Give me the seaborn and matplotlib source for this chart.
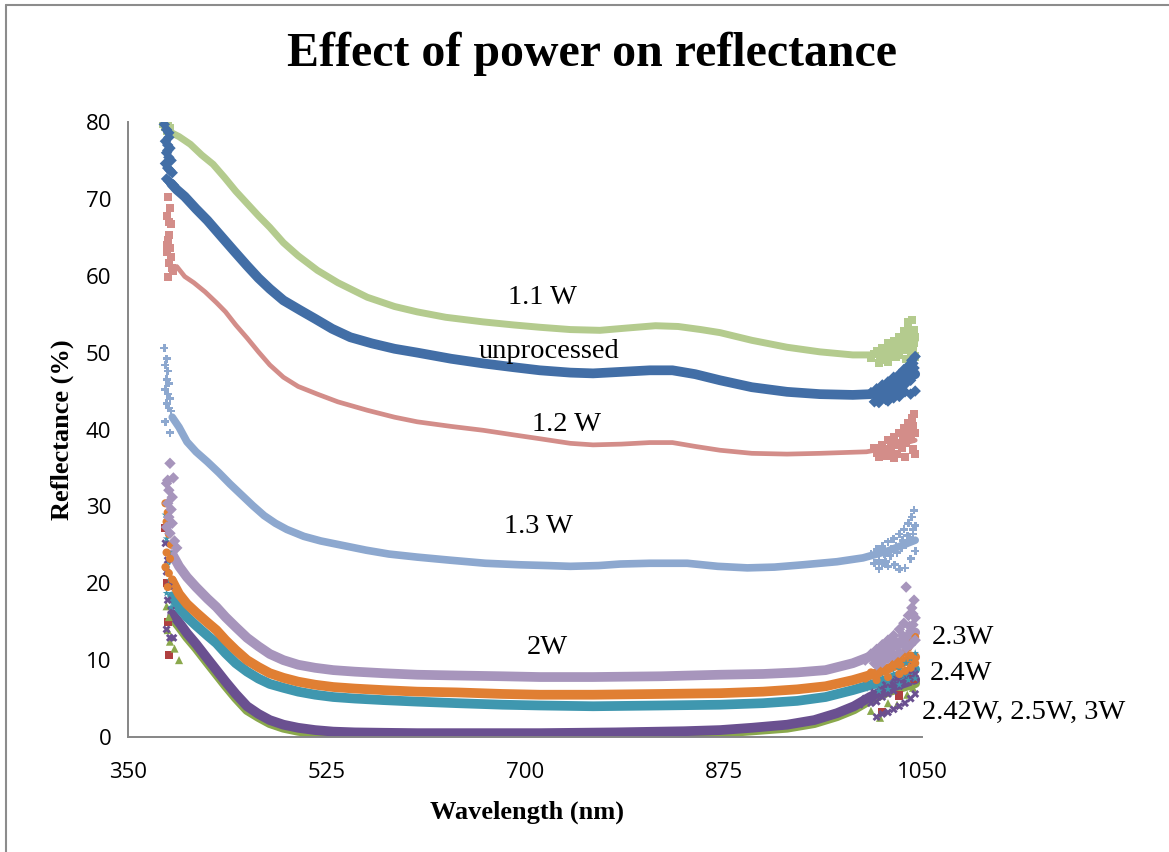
import numpy as np
import pandas as pd
import matplotlib
matplotlib.use("Agg")
import matplotlib.pyplot as plt
from matplotlib.lines import Line2D
from matplotlib.ticker import MultipleLocator, FixedLocator
import seaborn as sns

# ---------------- data ----------------
wl_11 = [381, 387, 395, 405, 415, 425, 435, 445, 455, 465, 475, 487, 500, 517, 535, 561, 585, 605, 630, 663, 690, 713, 740, 766, 790, 815, 835, 855, 872, 900, 931, 960, 989, 1007, 1025, 1044]
r_11 = [79.6, 78.7, 78.1, 77.1, 75.7, 74.5, 72.8, 71.0, 69.4, 67.8, 66.3, 64.3, 62.6, 60.7, 59.1, 57.2, 56.0, 55.3, 54.6, 54.0, 53.6, 53.3, 53.0, 52.9, 53.2, 53.5, 53.4, 53.0, 52.6, 51.6, 50.7, 50.1, 49.7, 49.7, 50.6, 51.6]

wl_un = [388, 393, 400, 410, 420, 430, 443, 455, 465, 475, 487, 502, 515, 530, 546, 565, 585, 605, 635, 663, 690, 713, 740, 760, 785, 810, 830, 850, 872, 900, 931, 960, 989, 1005, 1025, 1044]
r_un = [72.0, 71.2, 70.3, 68.7, 67.2, 65.5, 63.3, 61.3, 59.7, 58.3, 56.8, 55.5, 54.4, 53.1, 52.0, 51.2, 50.5, 50.0, 49.2, 48.6, 48.1, 47.7, 47.4, 47.3, 47.5, 47.7, 47.7, 47.2, 46.4, 45.5, 44.9, 44.6, 44.5, 44.6, 45.8, 47.2]

wl_12 = [393, 400, 408, 418, 428, 436, 445, 455, 465, 475, 487, 500, 517, 535, 561, 585, 605, 635, 663, 690, 713, 740, 760, 785, 810, 830, 850, 872, 900, 931, 960, 1001, 1020, 1044]
r_12 = [61.2, 59.9, 59.1, 57.9, 56.5, 55.3, 53.6, 51.9, 50.1, 48.4, 46.8, 45.6, 44.6, 43.6, 42.5, 41.6, 41.0, 40.4, 39.9, 39.3, 38.8, 38.2, 38.0, 38.1, 38.3, 38.3, 37.8, 37.3, 36.9, 36.8, 36.9, 37.1, 37.6, 38.6]

wl_13 = [389, 395, 402, 410, 420, 430, 440, 450, 460, 470, 480, 490, 505, 520, 540, 560, 580, 605, 634, 665, 696, 720, 740, 765, 784, 810, 843, 870, 896, 920, 945, 975, 998, 1020, 1044]
r_13 = [41.6, 40.3, 38.4, 37.1, 35.8, 34.4, 32.9, 31.5, 30.1, 28.8, 27.8, 27.0, 26.1, 25.5, 24.9, 24.3, 23.8, 23.4, 23.0, 22.6, 22.4, 22.3, 22.2, 22.3, 22.5, 22.6, 22.6, 22.2, 22.0, 22.1, 22.4, 22.8, 23.3, 24.2, 25.6]

wl_low = [389, 395, 402, 410, 420, 428, 436, 445, 455, 465, 475, 487, 500, 515, 531, 550, 575, 605, 640, 680, 713, 760, 820, 872, 910, 940, 965, 989, 1010, 1030, 1044]
r_20 = [23.8, 22.2, 20.8, 19.5, 18.0, 16.9, 15.6, 14.3, 12.9, 11.8, 10.8, 10.0, 9.4, 9.0, 8.7, 8.5, 8.3, 8.1, 8.0, 7.9, 7.8, 7.8, 7.9, 8.1, 8.2, 8.4, 8.7, 9.6, 10.8, 12.3, 13.6]
r_23 = [20.3, 18.6, 17.3, 16.2, 14.9, 13.9, 12.6, 11.3, 10.0, 9.1, 8.3, 7.7, 7.2, 6.8, 6.5, 6.3, 6.1, 5.9, 5.8, 5.6, 5.5, 5.5, 5.6, 5.7, 5.9, 6.2, 6.6, 7.4, 8.3, 9.5, 10.4]
r_24 = [18.3, 16.8, 15.6, 14.5, 13.2, 12.2, 10.9, 9.6, 8.5, 7.6, 6.9, 6.4, 5.9, 5.5, 5.2, 5.0, 4.8, 4.6, 4.4, 4.2, 4.1, 4.0, 4.1, 4.2, 4.4, 4.7, 5.2, 6.1, 7.0, 8.0, 8.8]

wl_bot = [389, 395, 402, 410, 420, 428, 436, 445, 455, 465, 475, 487, 500, 515, 531, 550, 575, 605, 660, 713, 780, 840, 872, 900, 931, 955, 975, 990, 1004, 1020, 1044]
r_242 = [16.0, 14.9, 13.5, 12.1, 10.2, 8.7, 7.2, 5.6, 4.0, 3.0, 2.2, 1.6, 1.2, 0.9, 0.7, 0.6, 0.55, 0.5, 0.5, 0.5, 0.6, 0.75, 0.9, 1.2, 1.6, 2.2, 3.1, 4.0, 5.2, 6.3, 7.5]
r_25 = [15.5, 14.4, 13.0, 11.6, 9.7, 8.2, 6.7, 5.1, 3.5, 2.6, 1.8, 1.2, 0.8, 0.5, 0.35, 0.3, 0.25, 0.2, 0.2, 0.2, 0.3, 0.45, 0.55, 0.85, 1.2, 1.8, 2.7, 3.6, 4.8, 5.9, 7.0]
r_3 = [15.7, 14.6, 13.2, 11.8, 9.9, 8.4, 6.9, 5.3, 3.7, 2.8, 2.0, 1.4, 1.0, 0.7, 0.5, 0.4, 0.38, 0.35, 0.35, 0.35, 0.45, 0.6, 0.7, 1.0, 1.4, 2.0, 2.9, 3.8, 5.0, 6.1, 7.2]

# noisy ends (individual scattered readings)
n11_wl = [381, 383, 385, 387, 384, 1005, 1010, 1012, 1015, 1018, 1020, 1022, 1025, 1027, 1030, 1032, 1034, 1036, 1038, 1040, 1041, 1042, 1043, 1044, 1044, 1040, 1036, 1030, 1025, 1020, 1015, 1010, 1038, 1042,
          1008, 1013, 1017, 1023, 1028, 1033, 1037, 1039, 1043, 1041, 1035, 1029, 1021]
n11_r = [79.8, 79.4, 79.9, 79.2, 78.9, 49.3, 50.2, 48.7, 50.6, 49.0, 51.2, 50.0, 51.5, 49.4, 52.0, 50.3, 52.8, 51.0, 53.4, 51.8, 54.2, 50.6, 53.0, 52.0, 49.5, 49.6, 49.2, 49.7, 50.5, 48.8, 49.4, 49.9, 54.0, 52.8,
         49.8, 49.6, 50.0, 50.8, 51.0, 51.6, 52.2, 52.6, 51.2, 50.2, 50.4, 50.0, 49.6]

nun_wl = [382, 384, 386, 383, 385, 387, 384, 386, 388, 383, 385, 387, 389, 384, 386, 388, 390, 386, 385,
          1005, 1008, 1010, 1012, 1015, 1018, 1020, 1022, 1025, 1028, 1030, 1032, 1034, 1036, 1038, 1040, 1041, 1042, 1043, 1044, 1044, 1040, 1035, 1030, 1025, 1020, 1015, 1012,
          1017, 1023, 1027, 1033, 1037, 1039, 1042, 1031, 1026, 1021]
nun_r = [79.7, 79.0, 78.6, 77.5, 77.0, 76.6, 76.0, 75.4, 75.0, 74.6, 74.0, 73.7, 73.4, 72.6, 72.3, 72.0, 71.8, 78.0, 76.3,
         44.8, 43.6, 45.3, 44.0, 45.8, 43.9, 46.2, 44.6, 46.8, 45.0, 47.2, 45.5, 47.8, 46.0, 48.3, 46.4, 49.0, 47.0, 48.0, 49.5, 45.0, 44.6, 44.9, 44.3, 44.1, 43.7, 44.3, 43.5,
         45.0, 45.4, 46.0, 46.6, 47.0, 47.4, 48.6, 45.8, 45.4, 45.0]

n12_wl = [385, 387, 384, 386, 388, 386, 385, 384, 387, 384, 388, 386, 385, 389, 390,
          1008, 1012, 1015, 1018, 1020, 1022, 1025, 1028, 1030, 1032, 1034, 1036, 1038, 1040, 1041, 1042, 1043, 1044, 1044, 1035, 1025, 1015, 1038, 1030,
          1010, 1017, 1023, 1027, 1033, 1037, 1042]
n12_r = [70.2, 68.8, 67.8, 67.0, 66.7, 65.3, 64.6, 64.0, 63.6, 63.1, 62.4, 61.6, 59.8, 61.0, 60.6,
         37.6, 36.4, 38.0, 36.6, 38.6, 37.2, 39.0, 36.8, 39.6, 37.6, 40.2, 38.2, 40.8, 38.8, 41.5, 37.4, 42.0, 39.5, 36.8, 36.4, 36.3, 37.0, 39.8, 38.2,
         37.0, 37.4, 37.8, 38.0, 38.6, 39.2, 40.4]

n13_wl = [382, 384, 383, 385, 384, 386, 383, 385, 387, 384, 386, 388, 383, 387,
          1005, 1008, 1010, 1012, 1015, 1018, 1020, 1022, 1025, 1028, 1030, 1032, 1034, 1036, 1038, 1040, 1041, 1042, 1043, 1044, 1044, 1040, 1035, 1030, 1026, 1020, 1015, 1012,
          1017, 1023, 1027, 1033, 1037, 1042]
n13_r = [50.6, 49.2, 48.4, 47.6, 46.5, 46.0, 45.2, 44.6, 44.0, 43.4, 42.8, 42.4, 41.0, 39.6,
         23.8, 22.6, 24.4, 23.0, 24.8, 22.8, 25.4, 23.6, 25.8, 24.0, 26.4, 24.6, 27.0, 25.0, 27.8, 25.6, 28.6, 26.4, 29.5, 27.5, 24.2, 23.2, 22.0, 21.8, 22.4, 22.2, 22.6, 21.9,
         23.8, 24.4, 24.8, 25.6, 26.2, 27.0]

n20_wl = [387, 385, 390, 384, 386, 389, 385, 388, 386, 389, 384, 387, 391, 393,
          1000, 1005, 1008, 1010, 1012, 1015, 1018, 1020, 1022, 1025, 1028, 1030, 1032, 1034, 1036, 1038, 1040, 1041, 1042, 1043, 1044, 1044, 1040, 1036, 1030, 1025, 1020, 1015, 1010, 1036,
          1017, 1023, 1027, 1033, 1039, 1042]
n20_r = [35.6, 33.4, 33.7, 33.0, 32.1, 31.2, 30.4, 29.6, 28.6, 27.8, 27.3, 26.5, 25.5, 24.6,
         10.0, 10.8, 9.6, 11.4, 10.2, 12.0, 10.6, 12.6, 11.2, 13.2, 11.8, 14.0, 12.4, 14.8, 13.0, 15.8, 13.8, 16.8, 14.6, 17.8, 15.5, 12.6, 12.0, 11.6, 11.0, 10.6, 10.2, 9.7, 9.4, 19.5,
         11.2, 11.8, 12.4, 13.2, 14.4, 16.0]

n23_wl = [383, 385, 384, 386, 388, 384, 387, 383, 386, 389, 385,
          1000, 1005, 1010, 1015, 1020, 1025, 1028, 1030, 1032, 1035, 1038, 1040, 1042, 1044, 1044, 1040, 1035, 1030, 1020, 1010]
n23_r = [30.4, 29.2, 28.0, 26.4, 25.0, 24.0, 23.2, 22.1, 21.3, 20.5, 19.5,
         7.6, 8.4, 8.0, 9.0, 8.8, 9.6, 10.2, 9.4, 10.8, 11.0, 11.6, 10.6, 12.4, 13.0, 9.6, 9.0, 8.6, 8.2, 7.8, 7.4]

n24_wl = [383, 385, 384, 386, 385, 387, 384, 388,
          1000, 1005, 1010, 1015, 1020, 1025, 1030, 1033, 1036, 1040, 1042, 1044, 1044, 1038, 1030, 1020, 1012]
n24_r = [28.9, 27.0, 25.8, 24.0, 22.4, 20.4, 18.7, 16.9,
         6.3, 7.0, 6.6, 7.6, 7.2, 8.2, 8.8, 8.0, 9.6, 10.2, 9.0, 10.9, 7.6, 7.4, 6.8, 6.2, 6.0]

n242_wl = [383, 385, 384, 386, 385, 388, 384, 387, 390,
           995, 1000, 1005, 1008, 1010, 1013, 1015, 1018, 1020, 1023, 1025, 1028, 1030, 1033, 1035, 1038, 1040, 1042, 1044, 1044, 1040, 1035, 1030, 1025, 1020, 1015, 1010]
n242_r = [25.2, 23.0, 21.5, 19.6, 17.8, 16.5, 14.0, 12.9, 12.9,
          4.2, 5.0, 4.4, 5.8, 4.6, 6.2, 5.2, 6.8, 5.6, 7.2, 6.0, 7.6, 6.6, 8.0, 7.0, 8.6, 7.6, 9.1, 8.2, 5.6, 5.0, 4.4, 4.0, 3.6, 3.2, 3.0, 2.6]

n25_wl = [384, 386, 385, 388, 387, 391, 395, 1005, 1013, 1020, 1028, 1037, 1042]
n25_r = [17.0, 15.6, 13.9, 13.0, 12.4, 11.5, 10.0, 3.4, 2.5, 4.4, 4.2, 5.5, 6.4]

n3_wl = [383, 384, 385, 386, 1015, 1030, 1042]
n3_r = [27.2, 20.0, 15.0, 10.7, 3.2, 5.4, 7.6]

series = [
    # name, wl, r, noise wl, noise r, color, linewidth(pt), marker
    ("1.1 W", wl_11, r_11, n11_wl, n11_r, "#B4CB8E", 5.0, "s"),
    ("unprocessed", wl_un, r_un, nun_wl, nun_r, "#426EA6", 7.0, "D"),
    ("1.2 W", wl_12, r_12, n12_wl, n12_r, "#D38D89", 3.4, "s"),
    ("1.3 W", wl_13, r_13, n13_wl, n13_r, "#8DA8CF", 5.5, "P"),
    ("3W", wl_bot, r_3, n3_wl, n3_r, "#B04040", 6.8, "s"),
    ("2.5W", wl_bot, r_25, n25_wl, n25_r, "#8AA84C", 7.0, "^"),
    ("2.42W", wl_bot, r_242, n242_wl, n242_r, "#6A5090", 7.0, "X"),
    ("2.4W", wl_low, r_24, n24_wl, n24_r, "#3F97AF", 7.0, "*"),
    ("2.3W", wl_low, r_23, n23_wl, n23_r, "#E07F33", 7.0, "o"),
    ("2W", wl_low, r_20, n20_wl, n20_r, "#A795BC", 7.0, "D"),
]

labels_txt = ["1.1 W", "unprocessed", "1.2 W", "1.3 W", "2W"]
labels_x = [715, 721, 737, 712, 720]
labels_y = [57.2, 50.2, 40.7, 27.4, 11.6]

right_txt = ["2.3W", "2.4W", "2.42W, 2.5W, 3W"]
right_x = [1058.5, 1057, 1050]
right_y = [13.0, 8.3, 3.25]

# ---------------- plotting ----------------
sns.set_theme(style="white")
plt.rcParams["font.family"] = ["Open Sans", "DejaVu Sans"]
plt.rcParams["text.color"] = "black"

fig = plt.figure(figsize=(11.69, 8.52), dpi=100)
ax = fig.add_axes([128 / 1169, 1 - 737 / 852, 794 / 1169, 615 / 852])

for name, wl, r, nwl, nr, col, lw, mk in series:
    sns.lineplot(x=wl, y=r, ax=ax, color=col, linewidth=lw, sort=False,
                 estimator=None, solid_capstyle="round", solid_joinstyle="round")
    sns.scatterplot(x=nwl, y=nr, ax=ax, color=col, marker=mk, s=34,
                    linewidth=0, edgecolor="none", zorder=3)

ax.set_xlim(350, 1050)
ax.set_ylim(0, 80)
ax.xaxis.set_major_locator(FixedLocator([350, 525, 700, 875, 1050]))
ax.xaxis.set_minor_locator(MultipleLocator(25))
ax.yaxis.set_major_locator(MultipleLocator(10))
ax.yaxis.set_minor_locator(MultipleLocator(2))

for s in ["top", "right"]:
    ax.spines[s].set_visible(False)
for s in ["left", "bottom"]:
    ax.spines[s].set_color("#868686")
    ax.spines[s].set_linewidth(1.4)

ax.tick_params(axis="both", which="both", direction="out", color="#868686",
               width=1.3, labelcolor="black", labelsize=16)
ax.tick_params(axis="both", which="major", length=5)
ax.tick_params(axis="both", which="minor", length=5)
ax.tick_params(axis="y", which="major", pad=7)
ax.tick_params(axis="x", which="major", pad=13)
ax.set_xlabel("")
ax.set_ylabel("")
ax.grid(False)

serif = ["Liberation Serif", "DejaVu Serif"]
for t, x, y in zip(labels_txt, labels_x, labels_y):
    ax.text(x, y, t, ha="center", va="center", fontsize=20.5, family=serif, color="black")
for t, x, y in zip(right_txt, right_x, right_y):
    ax.text(x, y, t, ha="left", va="center", fontsize=20.5, family=serif, color="black", clip_on=False)

fig.text(592 / 1169, 1 - 54 / 852, "Effect of power on reflectance", ha="center", va="center",
         fontsize=34.5, fontweight="bold", family=serif, color="black")
fig.text(527 / 1169, 1 - 812 / 852, "Wavelength (nm)", ha="center", va="center",
         fontsize=19, fontweight="bold", family=serif, color="black")
fig.text(62 / 1169, 1 - 430 / 852, "Reflectance (%)", ha="center", va="center", rotation=90,
         fontsize=19, fontweight="bold", family=serif, color="black")

# chart-area border (visible at left and top)
fig.add_artist(Line2D([0.0055, 0.0055], [0.0, 0.9945], transform=fig.transFigure, color="#8c8c8c", lw=1.5))
fig.add_artist(Line2D([0.0055, 1.0], [0.9945, 0.9945], transform=fig.transFigure, color="#8c8c8c", lw=1.5))

fig.savefig("out.png", dpi=100)
